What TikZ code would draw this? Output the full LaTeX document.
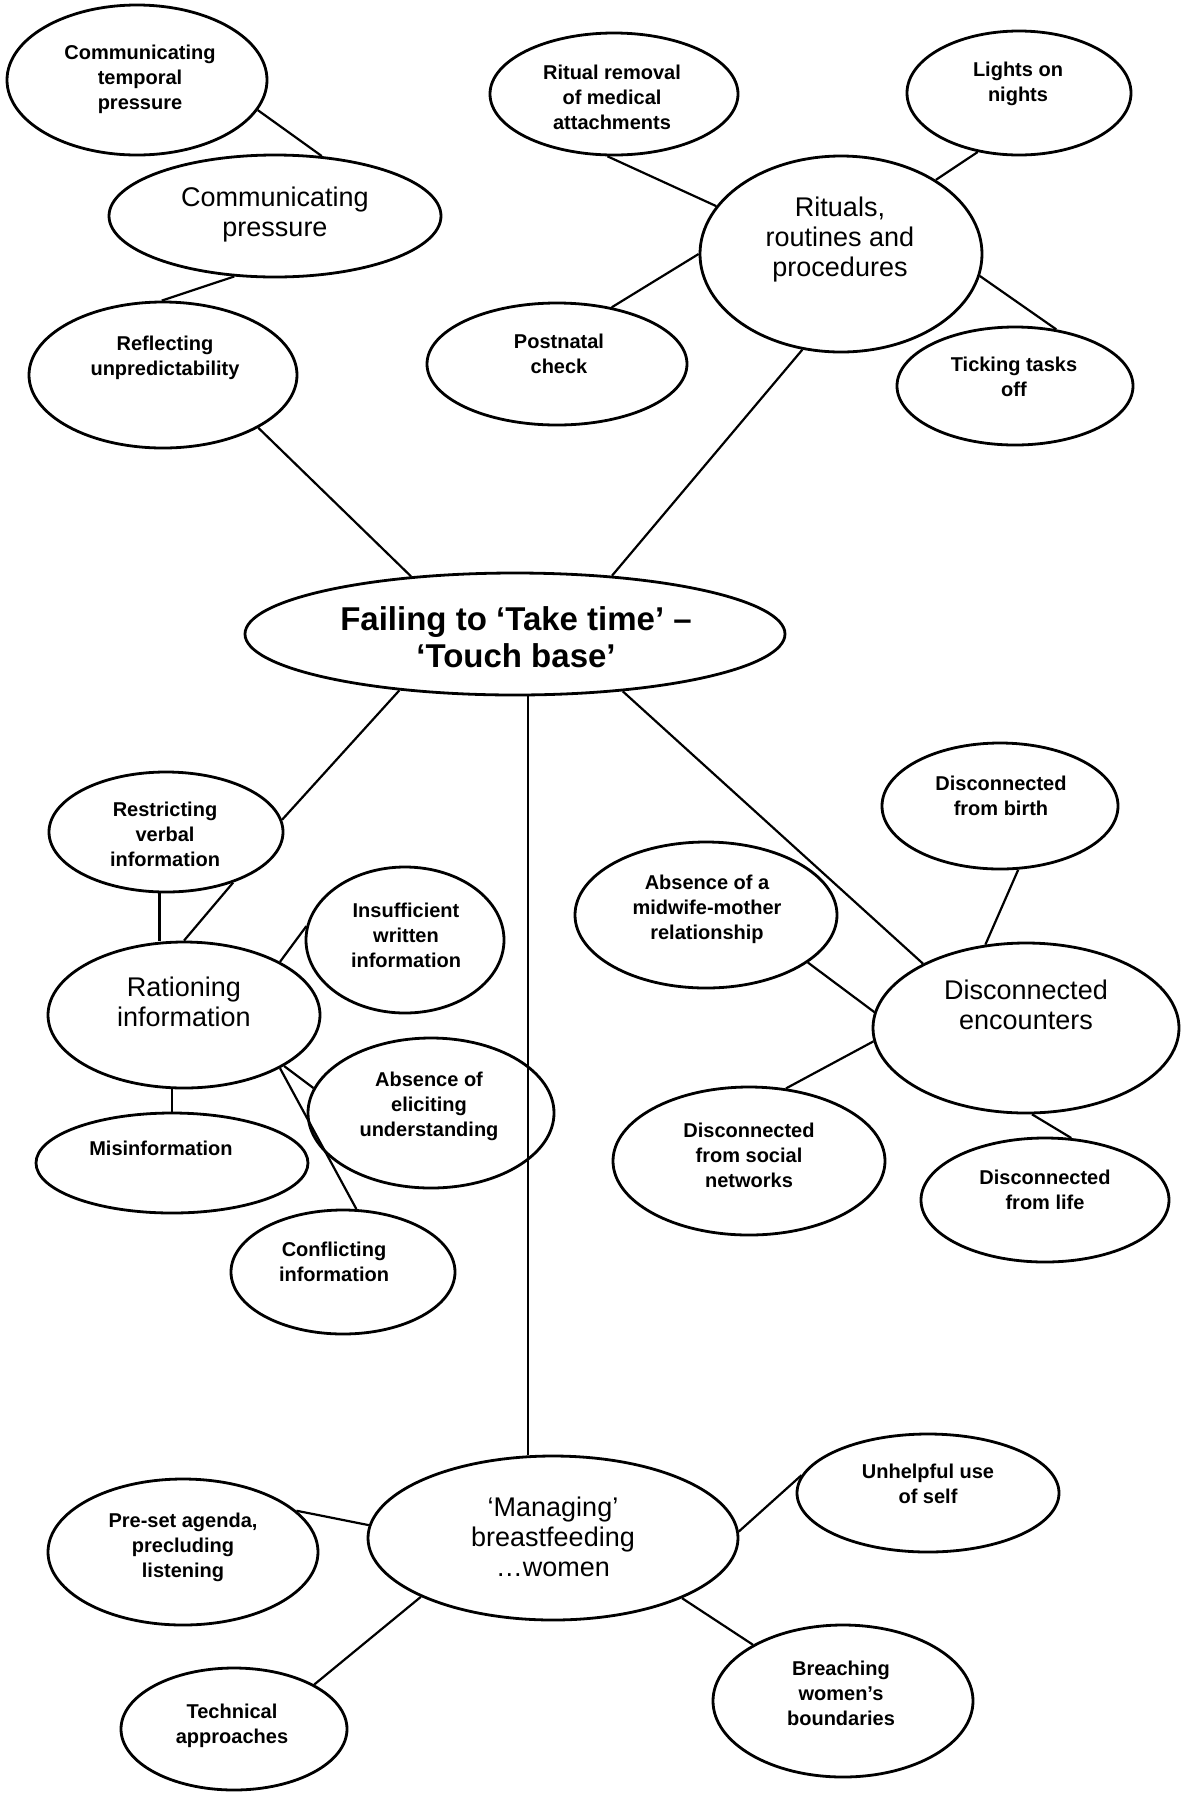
\documentclass[tikz,border=0pt]{standalone}
\usepackage{fontspec}
\setmainfont{Liberation Sans}
\usetikzlibrary{shapes.geometric}
\begin{document}
\begin{tikzpicture}[x=0.5pt,y=-0.5pt,
  bub/.style n args={2}{ellipse, draw, line width=1.4pt, inner sep=0pt,
    minimum width=#1pt, minimum height=#2pt},
  leaf/.style={align=center, inner sep=0pt,
    font=\fontsize{10pt}{12.5pt}\selectfont\bfseries},
  mid/.style={align=center, inner sep=0pt,
    font=\fontsize{13.5pt}{15pt}\selectfont},
  core/.style={align=center, inner sep=0pt,
    font=\fontsize{16.5pt}{18.5pt}\selectfont\bfseries},
  link/.style={line width=1.1pt}]
\useasboundingbox (0,0) rectangle (1183,1795);

% ---- ellipses (centre, half-width, half-height in px) ----
\node[bub={130}{75}] (ctp) at (137,80) {};
\node[bub={166}{61}] (cp)  at (275,216) {};
\node[bub={134}{73}] (ru)  at (163,375) {};
\node[bub={124}{61}] (rrm) at (614,94) {};
\node[bub={112}{62}] (lon) at (1019,93) {};
\node[bub={141}{98}] (rrp) at (841,254) {};
\node[bub={130}{61}] (pc)  at (557,364) {};
\node[bub={118}{59}] (ttf) at (1015,386) {};
\node[bub={270}{61}] (ftt) at (515,634) {};
\node[bub={117}{60}] (rvi) at (166,832) {};
\node[bub={99}{73}]  (iwi) at (405,940) {};
\node[bub={136}{73}] (ri)  at (184,1015) {};
\node[bub={136}{50}] (mis) at (172,1163) {};
\node[bub={123}{75}] (aeu) at (431,1113) {};
\node[bub={112}{62}] (ci)  at (343,1272) {};
\node[bub={118}{63}] (dfb) at (1000,806) {};
\node[bub={131}{73}] (amm) at (706,915) {};
\node[bub={153}{85}] (de)  at (1026,1028) {};
\node[bub={136}{74}] (dsn) at (749,1161) {};
\node[bub={124}{62}] (dfl) at (1045,1200) {};
\node[bub={185}{82}] (mb)  at (553,1538) {};
\node[bub={135}{73}] (psa) at (183,1552) {};
\node[bub={131}{59}] (uus) at (928,1493) {};
\node[bub={113}{61}] (ta)  at (234,1729) {};
\node[bub={130}{76}] (bwb) at (843,1701) {};

% ---- texts ----
\node[leaf] (ctp-t) at (140,79)  {Communicating\\temporal\\pressure};
\node[mid]  (cp-t)  at (275,215) {Communicating\\pressure};
\node[leaf] (ru-t)  at (165,358) {Reflecting\\unpredictability};
\node[leaf] (rrm-t) at (612,97)  {Ritual removal\\of medical\\attachments};
\node[leaf] (lon-t) at (1018,84) {Lights on\\nights};
\node[mid]  (rrp-t) at (840,240) {Rituals,\\routines and\\procedures};
\node[leaf] (pc-t)  at (559,354) {Postnatal\\check};
\node[leaf] (ttf-t) at (1014,377) {Ticking tasks\\off};
\node[core] (ftt-t) at (516,637) {Failing to ‘Take time’ –\\‘Touch base’};
\node[leaf] (rvi-t) at (165,834) {Restricting\\verbal\\information};
\node[leaf] (iwi-t) at (406,935) {Insufficient\\written\\information};
\node[mid]  (ri-t)  at (184,1002) {Rationing\\information};
\node[leaf] (mis-t) at (161,1148) {Misinformation};
\node[leaf] (aeu-t) at (429,1106) {Absence of\\eliciting\\understanding};
\node[leaf] (ci-t)  at (334,1262) {Conflicting\\information};
\node[leaf] (dfb-t) at (1001,796) {Disconnected\\from birth};
\node[leaf] (amm-t) at (707,909) {Absence of a\\midwife-mother\\relationship};
\node[mid]  (de-t)  at (1026,1005) {Disconnected\\encounters};
\node[leaf] (dsn-t) at (749,1155) {Disconnected\\from social\\networks};
\node[leaf] (dfl-t) at (1045,1190) {Disconnected\\from life};
\node[mid]  (mb-t)  at (553,1537) {‘Managing’\\breastfeeding\\…women};
\node[leaf] (psa-t) at (183,1547) {Pre-set agenda,\\precluding\\listening};
\node[leaf] (uus-t) at (928,1484) {Unhelpful use\\of self};
\node[leaf] (ta-t)  at (232,1726) {Technical\\approaches};
\node[leaf] (bwb-t) at (841,1693) {Breaching\\women’s\\boundaries};

% ---- connectors ----
\draw[link] (ctp.-14.6) -- (cp.52.7);
\draw[link] (cp.-124.1) -- (ru.91.6);
\draw[link] (ru.-29.6) -- (ftt.151.6);
\draw[link] (rrm.-96.3) -- (rrp.159.2);
\draw[link] (lon.-125) -- (rrp.38.7);
\draw[link] (pc.46.4) -- (rrp.180);
\draw[link] (rrp.-9.7) -- (ttf.54.6);
\draw[link] (rrp.-112.7) -- (ftt.31.9);
\draw[link] (ftt.-154.8) -- (rvi.6);
\draw[link] (ftt.-78.3) -- (ftt.-78.3 |- mb.north);
\draw[link] (ftt.-28.8) -- (de.148.5);
\draw[link] (rvi.-96.7) -- (rvi.-96.7 |- ri.north);
\draw[link] (rvi.-37.7) -- (ri.90);
\draw[link] (ri.29.2) -- (iwi.172.8);
\draw[link] (ri.-27.7) -- (aeu.168.5);
\draw[link] (mis.north) -- (mis.north |- ri.south);
\draw[link] (ri.-29.2) -- (ci.78.2);
\draw[link] (dfb.-74.3) -- (de.116.8);
\draw[link] (amm.-25.7) -- (de.174.4);
\draw[link] (de.-175.5) -- (dsn.63.1);
\draw[link] (de.-86) -- (dfl.67.2);
\draw[link] (mb.176.9) -- (psa.20.7);
\draw[link] (mb.2.5) -- (uus.172);
\draw[link] (mb.-156.8) -- (ta.29.2);
\draw[link] (mb.-25.5) -- (bwb.148.7);
\end{tikzpicture}
\end{document}
